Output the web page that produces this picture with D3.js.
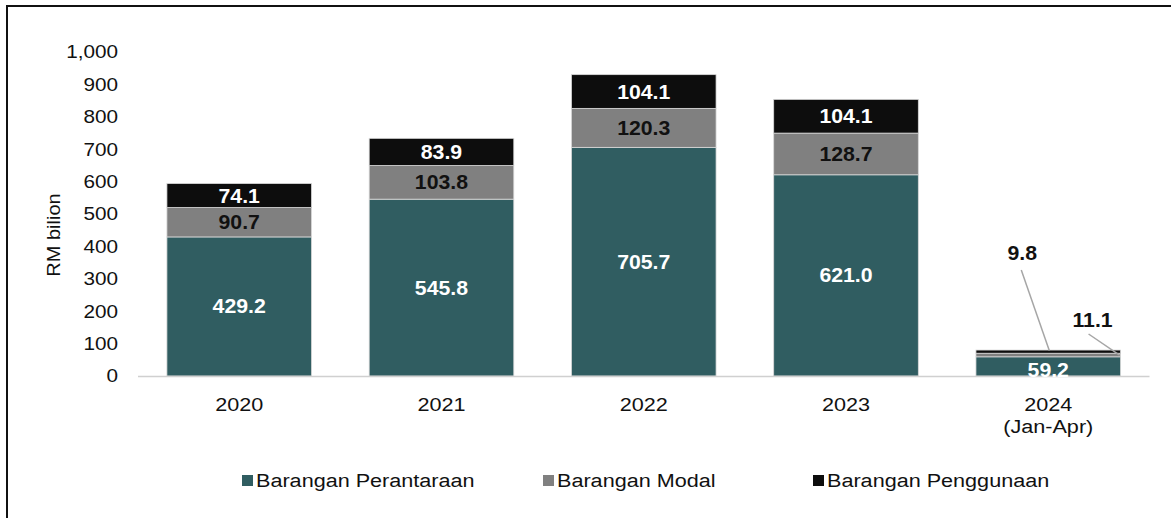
<!DOCTYPE html>
<html><head><meta charset="utf-8">
<script src="https://cdn.jsdelivr.net/npm/d3@7"></script>
<style>body{margin:0;background:#fff}svg{display:block;font-family:"Liberation Sans",Arial,sans-serif}</style>
</head><body><svg id="c" width="1171" height="518"></svg>
<script>
const categories = ["2020", "2021", "2022", "2023", "2024\n(Jan-Apr)"];
const seriesNames = ["Barangan Perantaraan", "Barangan Modal", "Barangan Penggunaan"];
const perantaraan = [429.2, 545.8, 705.7, 621.0, 59.2];
const modal = [90.7, 103.8, 120.3, 128.7, 11.1];
const penggunaan = [74.1, 83.9, 104.1, 104.1, 9.8];
const yTicks = [0, 100, 200, 300, 400, 500, 600, 700, 800, 900, 1000];
const colors = ["#305D61", "#808080", "#0D0D0D"];
const labelColors = ["#fff", "#111", "#fff"];

const svg = d3.select("#c");
function stretch(sel, f) {
  sel.each(function() {
    const t = this;
    if (t.querySelector("tspan")) {
      t.querySelectorAll("tspan").forEach(ts => {
        const L = ts.getComputedTextLength();
        ts.setAttribute("textLength", L * f);
        ts.setAttribute("lengthAdjust", "spacingAndGlyphs");
      });
    } else {
      const L = t.getComputedTextLength();
      t.setAttribute("textLength", L * f);
      t.setAttribute("lengthAdjust", "spacingAndGlyphs");
    }
  });
}

// frame lines
svg.append("line").attr("x1", 6.5).attr("x2", 1171).attr("y1", 6).attr("y2", 6).attr("stroke", "#111").attr("stroke-width", 2);
svg.append("line").attr("x1", 7).attr("x2", 7).attr("y1", 5).attr("y2", 518).attr("stroke", "#111").attr("stroke-width", 2);

const x = d3.scaleBand().domain(categories).range([138, 1149.5]).paddingInner(0.285).paddingOuter(0.143);
const y = d3.scaleLinear().domain([0, 1000]).range([376, 52]);

const rows = categories.map((c, i) => ({cat: c, v: [perantaraan[i], modal[i], penggunaan[i]]}));
const stack = d3.stack().keys([0, 1, 2]).value((d, k) => d.v[k]);
const stacked = stack(rows);

// y axis labels
const yl = svg.append("g").selectAll("text").data(yTicks).join("text")
  .attr("x", 118).attr("y", d => y(d)).attr("dy", "0.35em").attr("text-anchor", "end")
  .attr("font-size", 18.5).attr("fill", "#111").text(d3.format(","));
stretch(yl, 1.12);

const yt = svg.append("text").attr("transform", "translate(60,235) rotate(-90)").attr("text-anchor", "middle")
  .attr("font-size", 18).attr("fill", "#111").text("RM bilion");
stretch(yt, 1.11);

// bars
stacked.forEach((s, k) => {
  svg.append("g").selectAll("rect").data(s).join("rect")
    .attr("x", d => x(d.data.cat)).attr("width", x.bandwidth())
    .attr("y", d => y(d[1])).attr("height", d => y(d[0]) - y(d[1]))
    .attr("fill", colors[k]).attr("stroke", "#d9d9d9").attr("stroke-width", 0.8);
});

// baseline
svg.append("line").attr("x1", 138).attr("x2", 1149.5).attr("y1", 376.5).attr("y2", 376.5).attr("stroke", "#d0d0d0").attr("stroke-width", 1.5);

// labels inside bars
stacked.forEach((s, k) => {
  s.forEach((d, i) => {
    if (i === 4 && k > 0) return;
    const t = svg.append("text").attr("x", x(d.data.cat) + x.bandwidth() / 2)
      .attr("y", (y(d[0]) + y(d[1])) / 2 + (i === 4 ? 4 : 0)).attr("dy", "0.36em")
      .attr("text-anchor", "middle").attr("font-size", 19.5).attr("font-weight", "bold")
      .attr("fill", labelColors[k]).text(d3.format(".1f")(d.data.v[k]));
    stretch(t, 1.09);
  });
});

// 2024 outside labels with leader lines
const last = rows.length - 1;
const bx = x(categories[last]), bw = x.bandwidth();
const topPen = stacked[2][last], topMod = stacked[1][last];
const callouts = [
  {k: 2, tx: bx + bw / 2 - 26, ty: 253, lx1: bx + bw / 2 - 27, ly1: 270, lx2: bx + bw / 2 + 1, ly2: y(topPen[1]) + 0.5},
  {k: 1, tx: bx + bw - 28, ty: 320, lx1: bx + bw - 32, ly1: 334, lx2: bx + bw - 1, ly2: y((topMod[0] + topMod[1]) / 2)}
];
callouts.forEach(c => {
  svg.append("line").attr("x1", c.lx1).attr("y1", c.ly1).attr("x2", c.lx2).attr("y2", c.ly2)
    .attr("stroke", "#a6a6a6").attr("stroke-width", 1.5);
  const t = svg.append("text").attr("x", c.tx).attr("y", c.ty).attr("dy", "0.36em").attr("text-anchor", "middle")
    .attr("font-size", 19.5).attr("font-weight", "bold").attr("fill", "#111")
    .text(d3.format(".1f")(rows[last].v[c.k]));
  stretch(t, 1.09);
});

// x labels
const xl = svg.append("g").selectAll("text").data(categories).join("text")
  .attr("x", d => x(d) + bw / 2).attr("y", 411).attr("text-anchor", "middle")
  .attr("font-size", 18).attr("fill", "#111");
xl.each(function(d) {
  const parts = d.split("\n");
  parts.forEach((p, j) => d3.select(this).append("tspan").attr("x", x(d) + bw / 2).attr("dy", j ? 22 : 0).text(p));
});
stretch(xl, 1.2);

// legend
const legX = [242, 543, 813];
seriesNames.forEach((n, k) => {
  svg.append("rect").attr("x", legX[k]).attr("y", 475).attr("width", 11).attr("height", 11).attr("fill", colors[k]);
  const t = svg.append("text").attr("x", legX[k] + 14).attr("y", 480.5).attr("dy", "0.36em")
    .attr("font-size", 18).attr("fill", "#111").text(n);
  stretch(t, 1.2);
});
</script></body></html>
